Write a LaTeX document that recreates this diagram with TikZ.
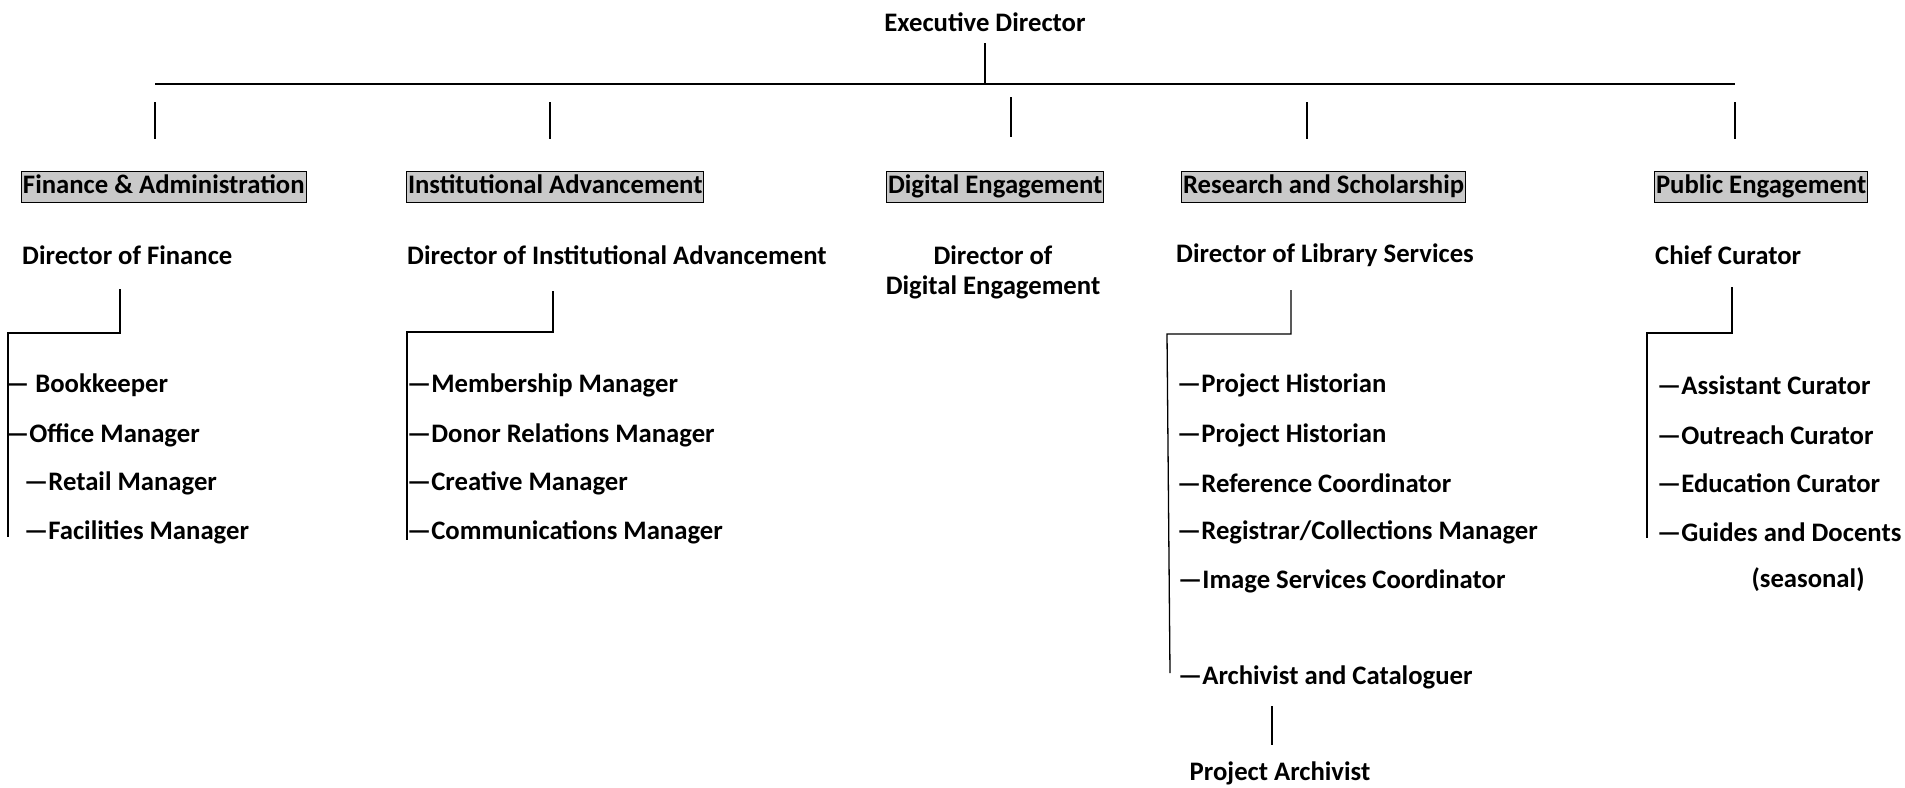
\documentclass[tikz,border=0pt]{standalone}
\usepackage{fontspec}
\setmainfont{Carlito}
\begin{document}
\begin{tikzpicture}[x=1pt,y=-1pt,
  txt/.style={font=\fontsize{26.7}{30}\selectfont\bfseries, inner sep=0pt},
  lbl/.style={txt, anchor=west},
  dept/.style={txt, anchor=west, draw=black, fill=gray!42, line width=1pt, inner xsep=1.5pt, inner ysep=3pt, text height=19pt, text depth=6pt},
  ln/.style={line width=1.3pt}]
\useasboundingbox (0,0) rectangle (1905,787);
% top
\node[txt] (ed) at (985,22) {Executive Director};
\coordinate (edb) at (985,43);
\coordinate (hm) at (985,84);
\coordinate (hl) at (155,84);
\coordinate (hr) at (1735,84);
\draw[ln] (edb) -- (hm);
\draw[ln] (hl) -- (hr);
% branch verticals
\foreach \n/\x/\a/\b in {b1/155/102/139, b2/550/102/139, b3/1011/97/137, b4/1307/102/139, b5/1735/102/139}{
  \coordinate (\n t) at (\x,\a);
  \coordinate (\n b) at (\x,\b);
  \draw[ln] (\n t) -- (\n b);
}
% departments
\node[dept] (fin) at (21,187) {Finance \& Administration};
\node[dept] (ins) at (406,187) {Institutional Advancement};
\node[dept] (dig) at (886,187) {Digital Engagement};
\node[dept] (res) at (1181,187) {Research and Scholarship};
\node[dept] (pub) at (1654,187) {Public Engagement};
% directors
\node[lbl] (dfin) at (22,255) {Director of Finance};
\node[lbl] (dins) at (407,255) {Director of Institutional Advancement};
\node[txt, align=center] (ddig) at (993,272) {Director of\\Digital Engagement};
\node[lbl] (dres) at (1176,255) {Director of Library Services};
\node[lbl] (dpub) at (1655,255) {Chief Curator};
% finance
\coordinate (f1) at (120,289); \coordinate (f2) at (120,333);
\coordinate (f3) at (8,333); \coordinate (f4) at (8,537);
\draw[ln] (f1) -- (f2) -- (f3) -- (f4);
\node[lbl] (fi1) at (5,385) {— Bookkeeper};
\node[lbl] (fi2) at (5,435) {—Office Manager};
\node[lbl] (fi3) at (24,483) {—Retail Manager};
\node[lbl] (fi4) at (24,532) {—Facilities Manager};
% institutional
\coordinate (i1) at (553,291); \coordinate (i2) at (553,332);
\coordinate (i3) at (407,332); \coordinate (i4) at (407,540);
\draw[ln] (i1) -- (i2) -- (i3) -- (i4);
\node[lbl] (ii1) at (407,385) {—Membership Manager};
\node[lbl] (ii2) at (407,435) {—Donor Relations Manager};
\node[lbl] (ii3) at (407,483) {—Creative Manager};
\node[lbl] (ii4) at (407,532) {—Communications Manager};
% research
\coordinate (r1) at (1291,290); \coordinate (r2) at (1291,334);
\coordinate (r3) at (1167,334); \coordinate (r4) at (1170,673);
\draw[ln] (r1) -- (r2) -- (r3) -- (r4);
\node[lbl] (ri1) at (1177,385) {—Project Historian};
\node[lbl] (ri2) at (1177,435) {—Project Historian};
\node[lbl] (ri3) at (1177,483) {—Reference Coordinator};
\node[lbl] (ri4) at (1177,532) {—Registrar/Collections Manager};
\node[lbl] (ri5) at (1178,581) {—Image Services Coordinator};
\node[lbl] (ri6) at (1178,677) {—Archivist and Cataloguer};
\coordinate (a1) at (1272,706); \coordinate (a2) at (1272,745);
\draw[ln] (a1) -- (a2);
\node[txt] (pa) at (1280,773) {Project Archivist};
% public
\coordinate (p1) at (1732,287); \coordinate (p2) at (1732,333);
\coordinate (p3) at (1647,333); \coordinate (p4) at (1647,538);
\draw[ln] (p1) -- (p2) -- (p3) -- (p4);
\node[lbl] (pi1) at (1657,385) {—Assistant Curator};
\node[lbl] (pi2) at (1657,435) {—Outreach Curator};
\node[lbl] (pi3) at (1657,483) {—Education Curator};
\node[lbl] (pi4) at (1657,532) {—Guides and Docents};
\node[txt] (seas) at (1808,580) {(seasonal)};
\end{tikzpicture}
\end{document}
